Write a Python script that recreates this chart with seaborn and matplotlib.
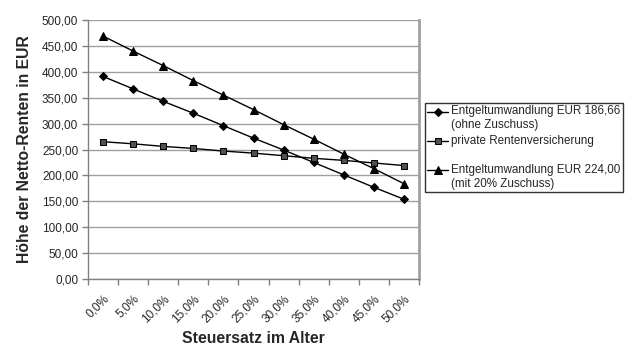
import matplotlib
matplotlib.use("Agg")
import matplotlib.pyplot as plt
import seaborn as sns
import pandas as pd
import numpy as np
from matplotlib.ticker import FixedLocator, NullFormatter
from matplotlib.lines import Line2D
from matplotlib.legend_handler import HandlerLine2D

categories = ["0,0%", "5,0%", "10,0%", "15,0%", "20,0%", "25,0%",
              "30,0%", "35,0%", "40,0%", "45,0%", "50,0%"]
entgelt_ohne = [391, 367, 343, 320, 296, 272, 249, 225, 201, 177, 154]
private_rv = [265, 261, 256, 252, 247, 243, 238, 233, 229, 224, 219]
entgelt_mit = [469, 440, 412, 383, 355, 327, 298, 270, 241, 213, 184]
series_names = ["Entgeltumwandlung EUR 186,66\n(ohne Zuschuss)",
                "private Rentenversicherung\n",
                "Entgeltumwandlung EUR 224,00\n(mit 20% Zuschuss)"]
y_ticks = [0, 50, 100, 150, 200, 250, 300, 350, 400, 450, 500]

sns.set_theme(style="white")
plt.rcParams['font.family'] = ['Liberation Sans', 'DejaVu Sans']

df = pd.DataFrame({
    "Steuersatz": categories * 3,
    "Wert": entgelt_ohne + private_rv + entgelt_mit,
    "Serie": [series_names[0]] * 11 + [series_names[1]] * 11 + [series_names[2]] * 11,
})

fig = plt.figure(figsize=(6.28, 3.45), dpi=100)
ax = fig.add_axes([88/628, 1-279/345, (419-88)/628, (279-20)/345])

sns.lineplot(data=df, x="Steuersatz", y="Wert", hue="Serie", style="Serie",
             palette=["black", "black", "black"],
             markers=["D", "s", "^"], dashes=False, ax=ax, sort=False,
             linewidth=1.0, markersize=5, markeredgecolor="black", legend=True)

def style_line(line):
    if line.get_marker() == "s":
        line.set_markerfacecolor("#505050")
        line.set_markersize(5)
    elif line.get_marker() == "D":
        line.set_markersize(4.5)
    elif line.get_marker() == "^":
        line.set_markersize(6)

for line in ax.lines:
    style_line(line)

ax.set_xlim(-0.5, len(categories) - 0.5)
ax.set_ylim(0, 500)
ax.set_yticks(y_ticks)
ax.set_yticklabels([f"{v:.2f}".replace(".", ",") for v in y_ticks], fontsize=8.5)
ax.yaxis.grid(True, color="#a0a0a0", linewidth=1.0)
ax.set_axisbelow(True)

ax.set_xticks(range(len(categories)))
ax.set_xticklabels(categories, rotation=45, ha="right", rotation_mode="anchor", fontsize=8.5)
ax.xaxis.set_minor_locator(FixedLocator(np.arange(-0.5, len(categories), 1.0)))
ax.xaxis.set_minor_formatter(NullFormatter())
ax.tick_params(axis="x", which="major", length=0, pad=10)
ax.tick_params(axis="x", which="minor", length=4, width=1, color="#808080", bottom=True)
ax.tick_params(axis="y", which="major", length=4, width=1, color="#808080", left=True, pad=3)

for side in ["left", "bottom"]:
    ax.spines[side].set_color("#808080")
    ax.spines[side].set_linewidth(1.0)
ax.spines["right"].set_color("#a0a0a0")
ax.spines["right"].set_linewidth(2.0)
ax.spines["top"].set_visible(False)

ax.set_xlabel("Steuersatz im Alter", fontsize=11.3, fontweight="bold", labelpad=4)
ax.set_ylabel("Höhe der Netto-Renten in EUR", fontsize=11.3, fontweight="bold", labelpad=7)


class TopLineHandler(HandlerLine2D):
    def create_artists(self, legend, orig_handle, xdescent, ydescent,
                       width, height, fontsize, trans):
        shift = 0.6 * fontsize
        return super().create_artists(legend, orig_handle, xdescent,
                                      ydescent - 2 * shift, width, height,
                                      fontsize, trans)


handles, labels = ax.get_legend_handles_labels()
ax.get_legend().remove()
leg = fig.legend(handles, labels, loc="upper left", bbox_to_anchor=(425/628, 1-103/345),
                 frameon=True, fancybox=False, fontsize=8.4, handlelength=1.8,
                 handletextpad=0.25, labelspacing=0.3, borderpad=0.2, borderaxespad=0,
                 handler_map={Line2D: TopLineHandler()})
leg.get_frame().set_edgecolor("black")
leg.get_frame().set_linewidth(1.0)
for h in leg.legend_handles:
    style_line(h)

fig.savefig("out.png", dpi=100, facecolor="white")
